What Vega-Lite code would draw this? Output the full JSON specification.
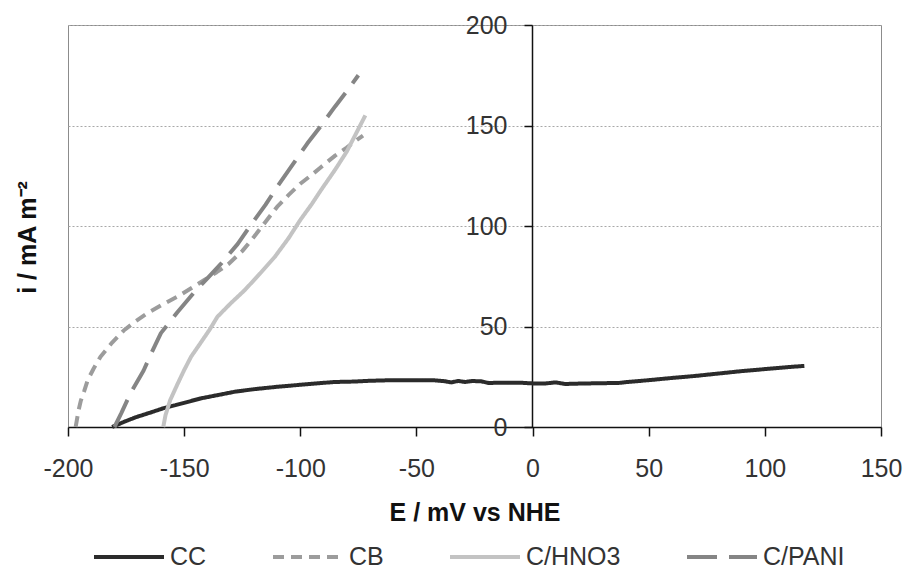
{
  "$schema": "https://vega.github.io/schema/vega-lite/v6.json",
  "width": 813,
  "height": 402,
  "autosize": "none",
  "padding": {"left": 68, "top": 25, "right": 24, "bottom": 143},
  "background": "white",
  "config": {
    "font": "Liberation Sans",
    "view": {"stroke": "#8c8c8c", "strokeWidth": 1}
  },
  "data": {
    "values": [
      {"s": "CC", "E": -181, "i": 0},
      {"s": "CC", "E": -176, "i": 2.5},
      {"s": "CC", "E": -171, "i": 4.8},
      {"s": "CC", "E": -165, "i": 7},
      {"s": "CC", "E": -159, "i": 9.3},
      {"s": "CC", "E": -150, "i": 12},
      {"s": "CC", "E": -143, "i": 14.2},
      {"s": "CC", "E": -135, "i": 16},
      {"s": "CC", "E": -128, "i": 17.6},
      {"s": "CC", "E": -120, "i": 18.8},
      {"s": "CC", "E": -110, "i": 20},
      {"s": "CC", "E": -100, "i": 21},
      {"s": "CC", "E": -92, "i": 21.8},
      {"s": "CC", "E": -85, "i": 22.4},
      {"s": "CC", "E": -77, "i": 22.6},
      {"s": "CC", "E": -70, "i": 23},
      {"s": "CC", "E": -60, "i": 23.3},
      {"s": "CC", "E": -50, "i": 23.3},
      {"s": "CC", "E": -42, "i": 23.2},
      {"s": "CC", "E": -38, "i": 22.8},
      {"s": "CC", "E": -35, "i": 22.2},
      {"s": "CC", "E": -32, "i": 22.9},
      {"s": "CC", "E": -29, "i": 22.4},
      {"s": "CC", "E": -26, "i": 22.9},
      {"s": "CC", "E": -22, "i": 22.7},
      {"s": "CC", "E": -19, "i": 21.9},
      {"s": "CC", "E": -15, "i": 22},
      {"s": "CC", "E": -5, "i": 22},
      {"s": "CC", "E": 0, "i": 21.7},
      {"s": "CC", "E": 5, "i": 21.6},
      {"s": "CC", "E": 10, "i": 22.2},
      {"s": "CC", "E": 14, "i": 21.4},
      {"s": "CC", "E": 20, "i": 21.6},
      {"s": "CC", "E": 30, "i": 21.8},
      {"s": "CC", "E": 37, "i": 21.9},
      {"s": "CC", "E": 40, "i": 22.3},
      {"s": "CC", "E": 50, "i": 23.3},
      {"s": "CC", "E": 60, "i": 24.4},
      {"s": "CC", "E": 70, "i": 25.4},
      {"s": "CC", "E": 80, "i": 26.6},
      {"s": "CC", "E": 90, "i": 27.8},
      {"s": "CC", "E": 100, "i": 28.8},
      {"s": "CC", "E": 110, "i": 29.8},
      {"s": "CC", "E": 117, "i": 30.4},

      {"s": "CB", "E": -196.7, "i": 0},
      {"s": "CB", "E": -195.5, "i": 8},
      {"s": "CB", "E": -194.5, "i": 13},
      {"s": "CB", "E": -193, "i": 18},
      {"s": "CB", "E": -191.5, "i": 23.4},
      {"s": "CB", "E": -189, "i": 29},
      {"s": "CB", "E": -186, "i": 35},
      {"s": "CB", "E": -181, "i": 42},
      {"s": "CB", "E": -176, "i": 48},
      {"s": "CB", "E": -171, "i": 52.5},
      {"s": "CB", "E": -166, "i": 56.5},
      {"s": "CB", "E": -160, "i": 60.5},
      {"s": "CB", "E": -153, "i": 64.8},
      {"s": "CB", "E": -147, "i": 69},
      {"s": "CB", "E": -141.5, "i": 73},
      {"s": "CB", "E": -136, "i": 77},
      {"s": "CB", "E": -131, "i": 81},
      {"s": "CB", "E": -125, "i": 87.5},
      {"s": "CB", "E": -120, "i": 94.5},
      {"s": "CB", "E": -115, "i": 102},
      {"s": "CB", "E": -110, "i": 109.5},
      {"s": "CB", "E": -105, "i": 115.5},
      {"s": "CB", "E": -100, "i": 121},
      {"s": "CB", "E": -95, "i": 125.5},
      {"s": "CB", "E": -91, "i": 129.4},
      {"s": "CB", "E": -85, "i": 135},
      {"s": "CB", "E": -80, "i": 139},
      {"s": "CB", "E": -76, "i": 142.5},
      {"s": "CB", "E": -73, "i": 145},

      {"s": "C/HNO3", "E": -159, "i": 0},
      {"s": "C/HNO3", "E": -158, "i": 6},
      {"s": "C/HNO3", "E": -156, "i": 13.4},
      {"s": "C/HNO3", "E": -153, "i": 21},
      {"s": "C/HNO3", "E": -150, "i": 28.3},
      {"s": "C/HNO3", "E": -147, "i": 35},
      {"s": "C/HNO3", "E": -143, "i": 41.7},
      {"s": "C/HNO3", "E": -139, "i": 48.5},
      {"s": "C/HNO3", "E": -135.7, "i": 54.8},
      {"s": "C/HNO3", "E": -130, "i": 61.5},
      {"s": "C/HNO3", "E": -124, "i": 68},
      {"s": "C/HNO3", "E": -118, "i": 75.5},
      {"s": "C/HNO3", "E": -111, "i": 84.6},
      {"s": "C/HNO3", "E": -105, "i": 94},
      {"s": "C/HNO3", "E": -100, "i": 103},
      {"s": "C/HNO3", "E": -95, "i": 111},
      {"s": "C/HNO3", "E": -91, "i": 118},
      {"s": "C/HNO3", "E": -85, "i": 128},
      {"s": "C/HNO3", "E": -80, "i": 137},
      {"s": "C/HNO3", "E": -76, "i": 146},
      {"s": "C/HNO3", "E": -72, "i": 155},

      {"s": "C/PANI", "E": -180, "i": 0},
      {"s": "C/PANI", "E": -177, "i": 7},
      {"s": "C/PANI", "E": -173, "i": 17},
      {"s": "C/PANI", "E": -167.5, "i": 28},
      {"s": "C/PANI", "E": -164, "i": 37},
      {"s": "C/PANI", "E": -160, "i": 46.7},
      {"s": "C/PANI", "E": -153, "i": 57},
      {"s": "C/PANI", "E": -146, "i": 66.6},
      {"s": "C/PANI", "E": -140, "i": 74},
      {"s": "C/PANI", "E": -134, "i": 81.4},
      {"s": "C/PANI", "E": -127, "i": 91},
      {"s": "C/PANI", "E": -121, "i": 101},
      {"s": "C/PANI", "E": -115, "i": 110.5},
      {"s": "C/PANI", "E": -110, "i": 119.4},
      {"s": "C/PANI", "E": -103, "i": 131},
      {"s": "C/PANI", "E": -97, "i": 141},
      {"s": "C/PANI", "E": -91, "i": 150},
      {"s": "C/PANI", "E": -85, "i": 159.5},
      {"s": "C/PANI", "E": -80, "i": 167},
      {"s": "C/PANI", "E": -75, "i": 175}
    ]
  },
  "mark": {"type": "line", "strokeWidth": 4, "strokeCap": "butt", "strokeJoin": "round"},
  "encoding": {
    "x": {
      "field": "E",
      "type": "quantitative",
      "scale": {"domain": [-200, 150], "nice": false, "zero": false},
      "axis": {
        "values": [-200, -150, -100, -50, 0, 50, 100, 150],
        "labelExpr": "toString(datum.value)",
        "title": "E / mV vs NHE",
        "grid": false,
        "domainColor": "#111111",
        "domainWidth": 1.5,
        "tickColor": "#111111",
        "tickWidth": 1.5,
        "tickSize": 9,
        "labelFont": "Liberation Sans",
        "labelFontSize": 25,
        "labelColor": "#333333",
        "labelPadding": 20,
        "labelFlush": false,
        "labelOverlap": false,
        "titleFont": "Liberation Sans",
        "titleFontSize": 25,
        "titleFontWeight": "bold",
        "titleColor": "#111111",
        "titlePadding": 19
      }
    },
    "y": {
      "field": "i",
      "type": "quantitative",
      "scale": {"domain": [0, 200], "nice": false},
      "axis": {
        "values": [0, 50, 100, 150, 200],
        "offset": -464,
        "grid": true,
        "gridColor": "#a8a8a8",
        "gridDash": [2, 2],
        "gridWidth": 1,
        "domainColor": "#111111",
        "domainWidth": 1.5,
        "tickColor": "#111111",
        "tickWidth": 1.5,
        "tickSize": 8,
        "labelFont": "Liberation Sans",
        "labelFontSize": 25,
        "labelColor": "#333333",
        "labelPadding": 17,
        "labelOverlap": false,
        "labelFlush": false,
        "title": "i / mA m⁻²",
        "titleFont": "Liberation Sans",
        "titleFontSize": 25,
        "titleFontWeight": "bold",
        "titleColor": "#111111",
        "titleAngle": -90,
        "titleAlign": "center",
        "titleBaseline": "alphabetic",
        "titleX": -497,
        "titleY": 212
      }
    },
    "color": {
      "field": "s",
      "type": "nominal",
      "scale": {
        "domain": ["CC", "CB", "C/HNO3", "C/PANI"],
        "range": ["#2b2b2b", "#9c9c9c", "#c3c3c3", "#858585"]
      },
      "legend": {
        "title": null,
        "orient": "none",
        "legendX": 24,
        "legendY": 495,
        "direction": "horizontal",
        "columns": 4,
        "columnPadding": 58,
        "padding": 0,
        "symbolType": "stroke",
        "symbolSize": 4900,
        "symbolStrokeWidth": 4,
        "labelFont": "Liberation Sans",
        "labelFontSize": 25,
        "labelColor": "#333333",
        "labelOffset": 4
      }
    },
    "strokeDash": {
      "field": "s",
      "type": "nominal",
      "scale": {
        "domain": ["CC", "CB", "C/HNO3", "C/PANI"],
        "range": [[1, 0], [11, 7], [1, 0], [30, 12]]
      },
      "legend": {
        "title": null,
        "orient": "none",
        "legendX": 24,
        "legendY": 495,
        "direction": "horizontal",
        "columns": 4,
        "columnPadding": 58,
        "padding": 0,
        "symbolType": "stroke",
        "symbolSize": 4900,
        "symbolStrokeWidth": 4,
        "labelFont": "Liberation Sans",
        "labelFontSize": 25,
        "labelColor": "#333333",
        "labelOffset": 4
      }
    }
  }
}
